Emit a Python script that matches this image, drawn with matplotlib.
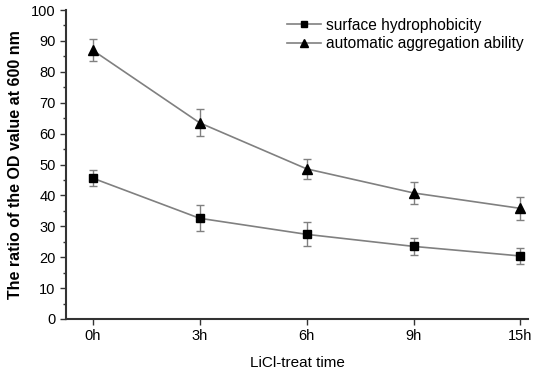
import numpy as np
import matplotlib
matplotlib.use("Agg")
import matplotlib.pyplot as plt
from matplotlib.ticker import MultipleLocator
from matplotlib.lines import Line2D

plt.rcParams['font.family'] = ['Liberation Sans', 'DejaVu Sans']

# data
times = ["0h", "3h", "6h", "9h", "15h"]
hydro = [45.6, 32.6, 27.4, 23.5, 20.4]
hydro_err = [2.5, 4.2, 3.9, 2.7, 2.5]
aggr = [87.0, 63.5, 48.6, 40.8, 35.8]
aggr_err = [3.5, 4.4, 3.3, 3.5, 3.7]

x = np.arange(len(times))

fig = plt.figure(figsize=(5.36, 3.72), dpi=100)
ax = fig.add_axes([0.123, 0.1425, 0.862, 0.8305])

ax.errorbar(x, hydro, yerr=hydro_err, color="#808080", marker="s", mfc="black",
            mec="black", ms=6, lw=1.2, ecolor="#808080", elinewidth=1,
            capsize=3, capthick=1)
ax.errorbar(x, aggr, yerr=aggr_err, color="#808080", marker="^", mfc="black",
            mec="black", ms=7, lw=1.2, ecolor="#808080", elinewidth=1,
            capsize=3, capthick=1)

ax.set_xlim(-0.25, 4.07)
ax.set_ylim(0, 100)
ax.set_xticks(x)
ax.set_xticklabels(times)
ax.yaxis.set_major_locator(MultipleLocator(10))
ax.yaxis.set_minor_locator(MultipleLocator(5))

for s in ["top", "right"]:
    ax.spines[s].set_visible(False)
for s in ["left", "bottom"]:
    ax.spines[s].set_linewidth(1.5)
    ax.spines[s].set_color("#333333")

ax.tick_params(axis="both", which="major", direction="out", length=4, width=1,
               labelsize=10.5, colors="#333333", labelcolor="black")
ax.tick_params(axis="y", which="minor", direction="out", length=2, width=1,
               colors="#333333")

ax.set_ylabel("The ratio of the OD value at 600 nm", fontsize=11.5,
              fontweight="bold", labelpad=6)
ax.set_xlabel("LiCl-treat time", fontsize=11, labelpad=9)

handles = [
    Line2D([], [], color="#808080", lw=1.2, marker="s", mfc="black",
           mec="black", ms=5),
    Line2D([], [], color="#808080", lw=1.2, marker="^", mfc="black",
           mec="black", ms=6),
]
ax.legend(handles, ["surface hydrophobicity", "automatic aggregation ability"],
          loc="upper right", bbox_to_anchor=(1.02, 1.02), frameon=False,
          fontsize=11.2, handlelength=2.2, handletextpad=0.3,
          labelspacing=0.2)

fig.savefig("out.png", dpi=100)
